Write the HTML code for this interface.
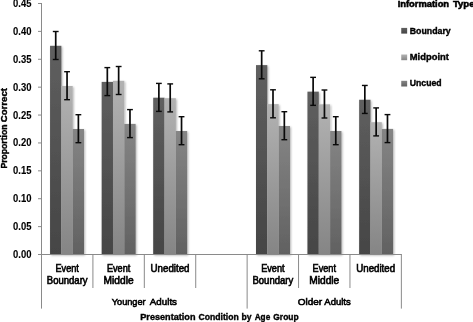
<!DOCTYPE html>
<html><head><meta charset="utf-8"><title>chart</title>
<style>
html,body{margin:0;padding:0;background:#fff;}
body{width:473px;height:322px;overflow:hidden;font-family:"Liberation Sans",sans-serif;}
svg{display:block;will-change:transform;}
text{font-family:"Liberation Sans",sans-serif;fill:#000;}
.b{font-weight:bold;stroke:#000;stroke-width:0.4;}
.r{stroke:#000;stroke-width:0.6;}
</style></head><body>
<svg width="473" height="322" viewBox="0 0 473 322">
<defs>
<linearGradient id="g1" x1="0" y1="0" x2="0" y2="1"><stop offset="0" stop-color="#5f5f5f"/><stop offset="1" stop-color="#454545"/></linearGradient>
<linearGradient id="g2" x1="0" y1="0" x2="0" y2="1"><stop offset="0" stop-color="#b2b2b2"/><stop offset="1" stop-color="#858585"/></linearGradient>
<linearGradient id="g3" x1="0" y1="0" x2="0" y2="1"><stop offset="0" stop-color="#858585"/><stop offset="1" stop-color="#616161"/></linearGradient>
<filter id="sh" x="-30%" y="-5%" width="170%" height="110%"><feGaussianBlur in="SourceAlpha" stdDeviation="1.2"/><feOffset dx="1.4" dy="0.5"/><feComponentTransfer><feFuncA type="linear" slope="0.30"/></feComponentTransfer><feMerge><feMergeNode/><feMergeNode in="SourceGraphic"/></feMerge></filter>
</defs>
<rect width="473" height="322" fill="#fff"/>

<g filter="url(#sh)">
<rect x="50.05" y="45.80" width="11.33" height="208.70" fill="url(#g1)"/>
<rect x="61.38" y="86.00" width="11.33" height="168.50" fill="url(#g2)"/>
<rect x="72.71" y="129.00" width="11.33" height="125.50" fill="url(#g3)"/>
<rect x="101.66" y="81.90" width="11.33" height="172.60" fill="url(#g1)"/>
<rect x="112.98" y="80.80" width="11.33" height="173.70" fill="url(#g2)"/>
<rect x="124.31" y="123.90" width="11.33" height="130.60" fill="url(#g3)"/>
<rect x="153.20" y="97.70" width="11.33" height="156.80" fill="url(#g1)"/>
<rect x="164.53" y="98.20" width="11.33" height="156.30" fill="url(#g2)"/>
<rect x="175.86" y="131.00" width="11.33" height="123.50" fill="url(#g3)"/>
<rect x="256.00" y="65.10" width="11.33" height="189.40" fill="url(#g1)"/>
<rect x="267.33" y="104.10" width="11.33" height="150.40" fill="url(#g2)"/>
<rect x="278.67" y="126.00" width="11.33" height="128.50" fill="url(#g3)"/>
<rect x="307.45" y="91.65" width="11.33" height="162.85" fill="url(#g1)"/>
<rect x="318.78" y="104.30" width="11.33" height="150.20" fill="url(#g2)"/>
<rect x="330.12" y="131.00" width="11.33" height="123.50" fill="url(#g3)"/>
<rect x="359.15" y="99.75" width="11.33" height="154.75" fill="url(#g1)"/>
<rect x="370.48" y="122.20" width="11.33" height="132.30" fill="url(#g2)"/>
<rect x="381.81" y="128.90" width="11.33" height="125.60" fill="url(#g3)"/>
</g>
<g stroke="#8a8a8a" stroke-width="1" fill="none">
<line x1="41.5" y1="3" x2="41.5" y2="308.6"/>
<line x1="38" y1="254.50" x2="42.0" y2="254.50"/>
<line x1="38" y1="226.61" x2="42.0" y2="226.61"/>
<line x1="38" y1="198.72" x2="42.0" y2="198.72"/>
<line x1="38" y1="170.83" x2="42.0" y2="170.83"/>
<line x1="38" y1="142.94" x2="42.0" y2="142.94"/>
<line x1="38" y1="115.05" x2="42.0" y2="115.05"/>
<line x1="38" y1="87.16" x2="42.0" y2="87.16"/>
<line x1="38" y1="59.27" x2="42.0" y2="59.27"/>
<line x1="38" y1="31.38" x2="42.0" y2="31.38"/>
<line x1="38" y1="3.49" x2="42.0" y2="3.49"/>
<line x1="38" y1="254.5" x2="401.87" y2="254.5"/>
<line x1="92.91" y1="254.5" x2="92.91" y2="288"/>
<line x1="144.32" y1="254.5" x2="144.32" y2="288"/>
<line x1="195.73" y1="254.5" x2="195.73" y2="288"/>
<line x1="247.14" y1="254.5" x2="247.14" y2="308.6"/>
<line x1="298.54999999999995" y1="254.5" x2="298.54999999999995" y2="288"/>
<line x1="349.96" y1="254.5" x2="349.96" y2="288"/>
<line x1="401.37" y1="254.5" x2="401.37" y2="308.6"/>
</g>
<g stroke="#0a0a0a" fill="none">
<line x1="55.72" y1="31.50" x2="55.72" y2="59.50" stroke-width="1.7"/>
<line x1="52.82" y1="31.50" x2="58.62" y2="31.50" stroke-width="1.4"/>
<line x1="52.82" y1="59.50" x2="58.62" y2="59.50" stroke-width="1.4"/>
<line x1="67.05" y1="71.70" x2="67.05" y2="99.70" stroke-width="1.7"/>
<line x1="64.15" y1="71.70" x2="69.95" y2="71.70" stroke-width="1.4"/>
<line x1="64.15" y1="99.70" x2="69.95" y2="99.70" stroke-width="1.4"/>
<line x1="78.38" y1="114.70" x2="78.38" y2="142.70" stroke-width="1.7"/>
<line x1="75.48" y1="114.70" x2="81.28" y2="114.70" stroke-width="1.4"/>
<line x1="75.48" y1="142.70" x2="81.28" y2="142.70" stroke-width="1.4"/>
<line x1="107.32" y1="67.60" x2="107.32" y2="95.60" stroke-width="1.7"/>
<line x1="104.42" y1="67.60" x2="110.22" y2="67.60" stroke-width="1.4"/>
<line x1="104.42" y1="95.60" x2="110.22" y2="95.60" stroke-width="1.4"/>
<line x1="118.65" y1="66.50" x2="118.65" y2="94.50" stroke-width="1.7"/>
<line x1="115.75" y1="66.50" x2="121.55" y2="66.50" stroke-width="1.4"/>
<line x1="115.75" y1="94.50" x2="121.55" y2="94.50" stroke-width="1.4"/>
<line x1="129.98" y1="109.60" x2="129.98" y2="137.60" stroke-width="1.7"/>
<line x1="127.08" y1="109.60" x2="132.88" y2="109.60" stroke-width="1.4"/>
<line x1="127.08" y1="137.60" x2="132.88" y2="137.60" stroke-width="1.4"/>
<line x1="158.87" y1="83.40" x2="158.87" y2="111.40" stroke-width="1.7"/>
<line x1="155.97" y1="83.40" x2="161.77" y2="83.40" stroke-width="1.4"/>
<line x1="155.97" y1="111.40" x2="161.77" y2="111.40" stroke-width="1.4"/>
<line x1="170.20" y1="83.90" x2="170.20" y2="111.90" stroke-width="1.7"/>
<line x1="167.30" y1="83.90" x2="173.10" y2="83.90" stroke-width="1.4"/>
<line x1="167.30" y1="111.90" x2="173.10" y2="111.90" stroke-width="1.4"/>
<line x1="181.53" y1="116.70" x2="181.53" y2="144.70" stroke-width="1.7"/>
<line x1="178.63" y1="116.70" x2="184.43" y2="116.70" stroke-width="1.4"/>
<line x1="178.63" y1="144.70" x2="184.43" y2="144.70" stroke-width="1.4"/>
<line x1="261.67" y1="50.80" x2="261.67" y2="78.80" stroke-width="1.7"/>
<line x1="258.77" y1="50.80" x2="264.57" y2="50.80" stroke-width="1.4"/>
<line x1="258.77" y1="78.80" x2="264.57" y2="78.80" stroke-width="1.4"/>
<line x1="273.00" y1="89.80" x2="273.00" y2="117.80" stroke-width="1.7"/>
<line x1="270.10" y1="89.80" x2="275.90" y2="89.80" stroke-width="1.4"/>
<line x1="270.10" y1="117.80" x2="275.90" y2="117.80" stroke-width="1.4"/>
<line x1="284.33" y1="111.70" x2="284.33" y2="139.70" stroke-width="1.7"/>
<line x1="281.43" y1="111.70" x2="287.23" y2="111.70" stroke-width="1.4"/>
<line x1="281.43" y1="139.70" x2="287.23" y2="139.70" stroke-width="1.4"/>
<line x1="313.12" y1="77.35" x2="313.12" y2="105.35" stroke-width="1.7"/>
<line x1="310.22" y1="77.35" x2="316.02" y2="77.35" stroke-width="1.4"/>
<line x1="310.22" y1="105.35" x2="316.02" y2="105.35" stroke-width="1.4"/>
<line x1="324.45" y1="90.00" x2="324.45" y2="118.00" stroke-width="1.7"/>
<line x1="321.55" y1="90.00" x2="327.35" y2="90.00" stroke-width="1.4"/>
<line x1="321.55" y1="118.00" x2="327.35" y2="118.00" stroke-width="1.4"/>
<line x1="335.78" y1="116.70" x2="335.78" y2="144.70" stroke-width="1.7"/>
<line x1="332.88" y1="116.70" x2="338.68" y2="116.70" stroke-width="1.4"/>
<line x1="332.88" y1="144.70" x2="338.68" y2="144.70" stroke-width="1.4"/>
<line x1="364.82" y1="85.45" x2="364.82" y2="113.45" stroke-width="1.7"/>
<line x1="361.92" y1="85.45" x2="367.72" y2="85.45" stroke-width="1.4"/>
<line x1="361.92" y1="113.45" x2="367.72" y2="113.45" stroke-width="1.4"/>
<line x1="376.15" y1="107.90" x2="376.15" y2="135.90" stroke-width="1.7"/>
<line x1="373.25" y1="107.90" x2="379.05" y2="107.90" stroke-width="1.4"/>
<line x1="373.25" y1="135.90" x2="379.05" y2="135.90" stroke-width="1.4"/>
<line x1="387.48" y1="114.60" x2="387.48" y2="142.60" stroke-width="1.7"/>
<line x1="384.58" y1="114.60" x2="390.38" y2="114.60" stroke-width="1.4"/>
<line x1="384.58" y1="142.60" x2="390.38" y2="142.60" stroke-width="1.4"/>
</g>
<text x="13.0" y="258.00" font-size="10.2" textLength="18.4" lengthAdjust="spacingAndGlyphs" class="b" style="stroke-width:0.1">0.00</text>
<text x="13.0" y="230.11" font-size="10.2" textLength="18.4" lengthAdjust="spacingAndGlyphs" class="b" style="stroke-width:0.1">0.05</text>
<text x="13.0" y="202.22" font-size="10.2" textLength="18.4" lengthAdjust="spacingAndGlyphs" class="b" style="stroke-width:0.1">0.10</text>
<text x="13.0" y="174.33" font-size="10.2" textLength="18.4" lengthAdjust="spacingAndGlyphs" class="b" style="stroke-width:0.1">0.15</text>
<text x="13.0" y="146.44" font-size="10.2" textLength="18.4" lengthAdjust="spacingAndGlyphs" class="b" style="stroke-width:0.1">0.20</text>
<text x="13.0" y="118.55" font-size="10.2" textLength="18.4" lengthAdjust="spacingAndGlyphs" class="b" style="stroke-width:0.1">0.25</text>
<text x="13.0" y="90.66" font-size="10.2" textLength="18.4" lengthAdjust="spacingAndGlyphs" class="b" style="stroke-width:0.1">0.30</text>
<text x="13.0" y="62.77" font-size="10.2" textLength="18.4" lengthAdjust="spacingAndGlyphs" class="b" style="stroke-width:0.1">0.35</text>
<text x="13.0" y="34.88" font-size="10.2" textLength="18.4" lengthAdjust="spacingAndGlyphs" class="b" style="stroke-width:0.1">0.40</text>
<text x="13.0" y="6.99" font-size="10.2" textLength="18.4" lengthAdjust="spacingAndGlyphs" class="b" style="stroke-width:0.1">0.45</text>
<g transform="translate(6.9,168.5) rotate(-90)"><text x="0" y="0" font-size="9.6" textLength="44.0" lengthAdjust="spacingAndGlyphs" class="b">Proportion</text><text x="46.3" y="0" font-size="9.6" textLength="34.2" lengthAdjust="spacingAndGlyphs" class="b">Correct</text></g>
<text x="397.7" y="7.1" font-size="9.7" textLength="51.4" lengthAdjust="spacingAndGlyphs" class="b" style="stroke-width:0.55">Information</text><text x="452.9" y="7.1" font-size="9.7" textLength="21.6" lengthAdjust="spacingAndGlyphs" class="b" style="stroke-width:0.55">Type</text>
<rect x="401.25" y="27.90" width="5.9" height="5.7" fill="url(#g1)"/>
<text x="409.8" y="33.5" font-size="9.7" textLength="40.9" lengthAdjust="spacingAndGlyphs" class="b">Boundary</text>
<rect x="401.25" y="54.50" width="5.9" height="5.7" fill="url(#g2)"/>
<text x="409.8" y="60.1" font-size="9.7" textLength="39.1" lengthAdjust="spacingAndGlyphs" class="b">Midpoint</text>
<rect x="401.25" y="80.80" width="5.9" height="5.7" fill="url(#g3)"/>
<text x="409.8" y="86.4" font-size="9.7" textLength="31.8" lengthAdjust="spacingAndGlyphs" class="b">Uncued</text>
<text x="55.50" y="271.7" font-size="10.0" textLength="23.4" lengthAdjust="spacingAndGlyphs" class="r">Event</text><text x="46.80" y="284.2" font-size="10.0" textLength="40.8" lengthAdjust="spacingAndGlyphs" class="r">Boundary</text>
<text x="261.14" y="271.7" font-size="10.0" textLength="23.4" lengthAdjust="spacingAndGlyphs" class="r">Event</text><text x="252.44" y="284.2" font-size="10.0" textLength="40.8" lengthAdjust="spacingAndGlyphs" class="r">Boundary</text>
<text x="106.91" y="271.7" font-size="10.0" textLength="23.4" lengthAdjust="spacingAndGlyphs" class="r">Event</text><text x="103.61" y="284.2" font-size="10.0" textLength="30.0" lengthAdjust="spacingAndGlyphs" class="r">Middle</text>
<text x="312.55" y="271.7" font-size="10.0" textLength="23.4" lengthAdjust="spacingAndGlyphs" class="r">Event</text><text x="309.25" y="284.2" font-size="10.0" textLength="30.0" lengthAdjust="spacingAndGlyphs" class="r">Middle</text>
<text x="150.57" y="271.7" font-size="10.0" textLength="38.9" lengthAdjust="spacingAndGlyphs" class="r">Unedited</text>
<text x="356.21" y="271.7" font-size="10.0" textLength="38.9" lengthAdjust="spacingAndGlyphs" class="r">Unedited</text>
<text x="111.8" y="304.7" font-size="9.8" textLength="33.8" lengthAdjust="spacingAndGlyphs" class="r">Younger</text><text x="149.8" y="304.7" font-size="9.8" textLength="27.2" lengthAdjust="spacingAndGlyphs" class="r">Adults</text>
<text x="297.7" y="304.7" font-size="9.8" textLength="24.5" lengthAdjust="spacingAndGlyphs" class="r">Older</text><text x="324.3" y="304.7" font-size="9.8" textLength="26.4" lengthAdjust="spacingAndGlyphs" class="r">Adults</text>
<text x="140.3" y="319.8" font-size="9.9" textLength="55.2" lengthAdjust="spacingAndGlyphs" class="b">Presentation</text>
<text x="198.6" y="319.8" font-size="9.9" textLength="40.2" lengthAdjust="spacingAndGlyphs" class="b">Condition</text>
<text x="241.6" y="319.8" font-size="9.9" textLength="10.0" lengthAdjust="spacingAndGlyphs" class="b">by</text>
<text x="254.7" y="319.8" font-size="9.9" textLength="15.5" lengthAdjust="spacingAndGlyphs" class="b">Age</text>
<text x="273.3" y="319.8" font-size="9.9" textLength="25.3" lengthAdjust="spacingAndGlyphs" class="b">Group</text>
</svg></body></html>
